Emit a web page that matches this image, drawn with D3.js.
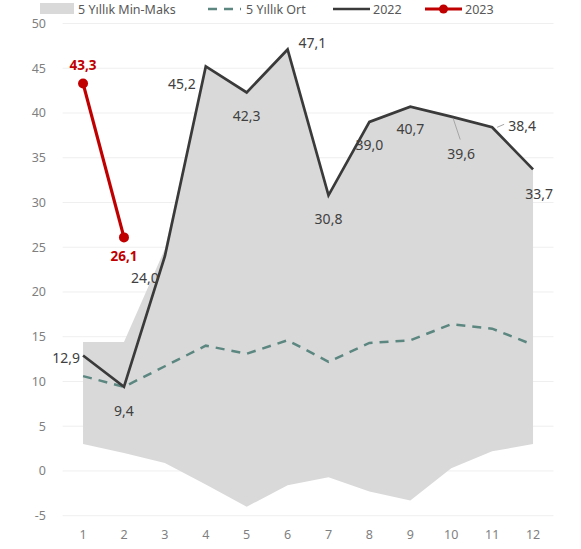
<!DOCTYPE html>
<html>
<head>
<meta charset="utf-8">
<script src="https://cdn.jsdelivr.net/npm/d3@7"></script>
<style>
  html, body { margin: 0; padding: 0; background: #fff; }
  svg { display: block; }
</style>
</head>
<body>
<svg id="chart" width="581" height="549"></svg>
<script>
// ---- data ----
const months = [1, 2, 3, 4, 5, 6, 7, 8, 9, 10, 11, 12];
const minVals = [3.0, 2.0, 0.9, -1.5, -4.0, -1.6, -0.7, -2.3, -3.3, 0.3, 2.2, 3.0];
const maxVals = [14.4, 14.4, 24.8, 45.2, 42.3, 47.1, 30.8, 39.0, 40.7, 39.6, 38.4, 33.7];
const avgVals = [10.6, 9.4, 11.7, 14.0, 13.1, 14.6, 12.2, 14.3, 14.6, 16.4, 15.9, 14.1];
const vals2022 = [12.9, 9.4, 24.0, 45.2, 42.3, 47.1, 30.8, 39.0, 40.7, 39.6, 38.4, 33.7];
const vals2023 = [43.3, 26.1];
const yTicks = [-5, 0, 5, 10, 15, 20, 25, 30, 35, 40, 45, 50];
const legendLabels = ["5 Yıllık Min-Maks", "5 Yıllık Ort", "2022", "2023"];

// label placement for 2022 (dx, dy, anchor)
const lab2022 = [
  [-3, 2, "end"], [0, 24, "middle"], [-6, 21, "end"], [-10, 17, "end"],
  [0, 23, "middle"], [11, -7, "start"], [0, 23, "middle"], [0, 23, "middle"],
  [0, 22, "middle"], [10, 37, "middle"], [16, -2, "start"], [6, 24, "middle"]
];
const lab2023 = [[0, -18, "middle"], [0, 19, "middle"]];

const svg = d3.select("#chart");
const font = "'Noto Sans', 'Open Sans', sans-serif";

const x = d3.scaleBand().domain(months).range([62.6, 553.5]).padding(0);
const cx = d => x(d) + x.bandwidth() / 2;
const y = d3.scaleLinear().domain([-5, 50]).range([515.7, 23.5]);

// gridlines
svg.append("g").selectAll("line").data(yTicks).join("line")
  .attr("x1", 62.6).attr("x2", 553.5)
  .attr("y1", d => y(d)).attr("y2", d => y(d))
  .attr("stroke", "#efefef").attr("stroke-width", 1);

// y axis labels
const yAxis = d3.axisLeft(y).tickValues(yTicks).tickSize(0).tickPadding(0)
  .tickFormat(d => String(d));
const yg = svg.append("g").attr("transform", "translate(46,0)").call(yAxis);
yg.select(".domain").remove();
yg.selectAll("text").attr("font-family", font).attr("font-size", 12.5).attr("fill", "#7f7f7f");

// x axis labels
const xAxis = d3.axisBottom(x).tickSize(0).tickPadding(0);
const xg = svg.append("g").attr("transform", "translate(0,530)").call(xAxis);
xg.select(".domain").remove();
xg.selectAll("text").attr("font-family", font).attr("font-size", 12.5).attr("fill", "#7f7f7f");

// min-max area
const area = d3.area()
  .x((d, i) => cx(months[i]))
  .y0((d, i) => y(minVals[i]))
  .y1((d, i) => y(maxVals[i]));
svg.append("path").datum(months).attr("d", area).attr("fill", "#d9d9d9");

// average dashed
const lineGen = arr => d3.line().x((d, i) => cx(months[i])).y((d, i) => y(arr[i]));
svg.append("path").datum(avgVals).attr("d", lineGen(avgVals))
  .attr("fill", "none").attr("stroke", "#5b8780").attr("stroke-width", 2.5)
  .attr("stroke-dasharray", "9,7");

// 2022 line
svg.append("path").datum(vals2022).attr("d", lineGen(vals2022))
  .attr("fill", "none").attr("stroke", "#3a3a3a").attr("stroke-width", 2.7)
  .attr("stroke-linejoin", "miter");

// leader lines
svg.append("line").attr("x1", cx(10) + 2).attr("y1", y(vals2022[9]) + 2)
  .attr("x2", cx(10) + 9).attr("y2", y(vals2022[9]) + 23)
  .attr("stroke", "#a6a6a6").attr("stroke-width", 1);
svg.append("line").attr("x1", cx(11) + 5).attr("y1", y(vals2022[10]))
  .attr("x2", cx(11) + 12).attr("y2", y(vals2022[10]) - 3)
  .attr("stroke", "#a6a6a6").attr("stroke-width", 1);

// 2022 labels
svg.append("g").selectAll("text").data(vals2022).join("text")
  .attr("x", (d, i) => cx(months[i]) + lab2022[i][0])
  .attr("y", (d, i) => y(d) + lab2022[i][1])
  .attr("text-anchor", (d, i) => lab2022[i][2])
  .attr("dominant-baseline", "central")
  .attr("font-family", font).attr("font-size", 14).attr("fill", "#404040")
  .text(d => d.toFixed(1).replace(".", ","));

// 2023 line
svg.append("path").datum(vals2023).attr("d", lineGen(vals2023))
  .attr("fill", "none").attr("stroke", "#c00000").attr("stroke-width", 3.2);
svg.append("g").selectAll("circle").data(vals2023).join("circle")
  .attr("cx", (d, i) => cx(months[i])).attr("cy", d => y(d)).attr("r", 5)
  .attr("fill", "#c00000");
svg.append("g").selectAll("text").data(vals2023).join("text")
  .attr("x", (d, i) => cx(months[i]) + lab2023[i][0])
  .attr("y", (d, i) => y(d) + lab2023[i][1])
  .attr("text-anchor", lab2023[0][2])
  .attr("dominant-baseline", "central")
  .attr("font-family", font).attr("font-size", 13.5).attr("font-weight", "bold")
  .attr("fill", "#c00000")
  .text(d => d.toFixed(1).replace(".", ","));

// legend at top
const lgY = 9;
const lg = svg.append("g");
lg.append("rect").attr("x", 40).attr("y", lgY - 6).attr("width", 34).attr("height", 11).attr("fill", "#d9d9d9");
lg.append("line").attr("x1", 208).attr("x2", 241).attr("y1", lgY).attr("y2", lgY)
  .attr("stroke", "#5b8780").attr("stroke-width", 2.5).attr("stroke-dasharray", "9,7");
lg.append("line").attr("x1", 333).attr("x2", 370).attr("y1", lgY).attr("y2", lgY)
  .attr("stroke", "#3a3a3a").attr("stroke-width", 2.5);
lg.append("line").attr("x1", 425).attr("x2", 462).attr("y1", lgY).attr("y2", lgY)
  .attr("stroke", "#c00000").attr("stroke-width", 3);
lg.append("circle").attr("cx", 443.5).attr("cy", lgY).attr("r", 4.5).attr("fill", "#c00000");
const legX = [78, 246, 373, 465];
lg.selectAll("text.leg").data(legendLabels).join("text").attr("class", "leg")
  .attr("x", (d, i) => legX[i]).attr("y", lgY).attr("dominant-baseline", "central")
  .attr("font-family", font).attr("font-size", 12.5).attr("fill", "#595959")
  .text(d => d);
</script>
</body>
</html>
